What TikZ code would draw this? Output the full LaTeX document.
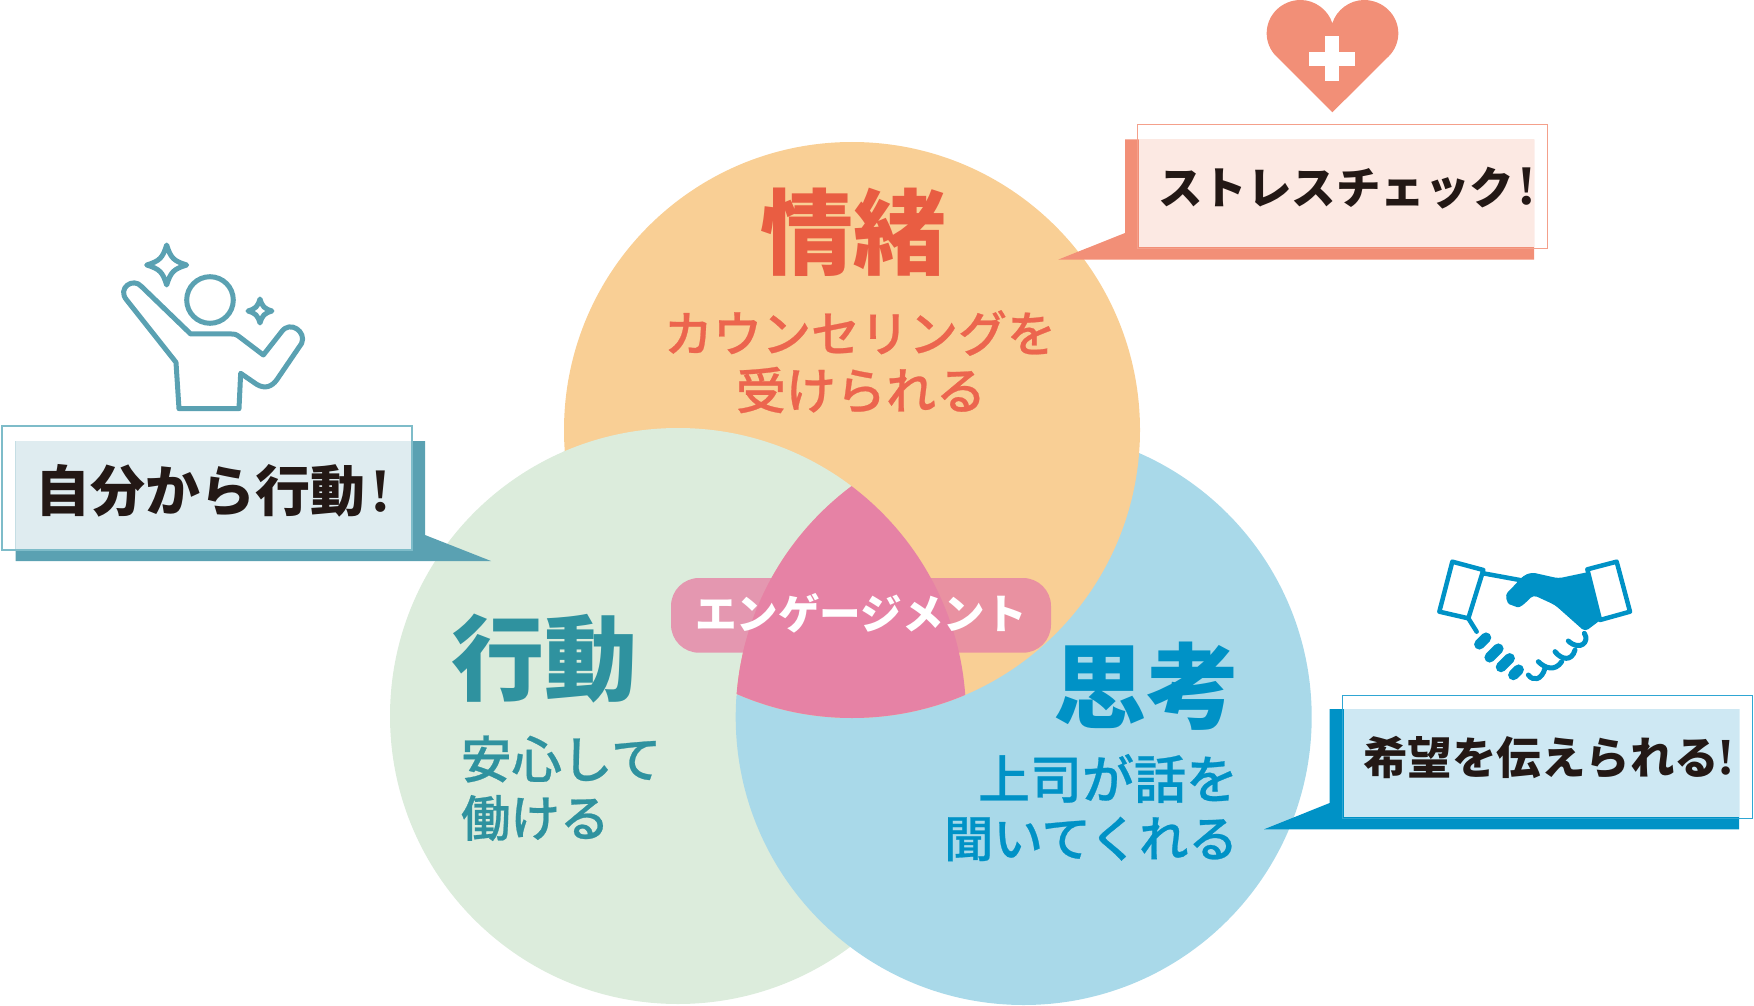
\documentclass[tikz,border=0pt]{standalone}
\usepackage{fontspec}
\setmainfont{Noto Sans CJK JP}
\newfontfamily\jpm{Noto Sans CJK JP Medium}[FakeBold=0.5]
\newfontfamily\bangfont{Liberation Serif}
\definecolor{corange}{HTML}{F9CF95}
\definecolor{cgreen}{HTML}{DCECDC}
\definecolor{cblue}{HTML}{A9D9E9}
\definecolor{cpink}{HTML}{E682A5}
\definecolor{tred}{HTML}{E95D42}
\definecolor{sred}{HTML}{EC654E}
\definecolor{tteal}{HTML}{2F929F}
\definecolor{tblue}{HTML}{0092C6}
\definecolor{ink}{HTML}{231815}
\definecolor{steal}{HTML}{5AA1B2}
\definecolor{lteal}{HTML}{DFECF0}
\definecolor{oteal}{HTML}{7EBCC9}
\definecolor{ssalmon}{HTML}{F28F77}
\definecolor{lsalmon}{HTML}{FCE9E3}
\definecolor{lblue}{HTML}{CEE8F3}
\definecolor{oblue}{HTML}{2FA6D3}
\def\CircO{(852,430) circle[radius=288pt]}
\def\CircG{(678,716) circle[radius=288pt]}
\def\CircB{(1023.7,717) circle[radius=288pt]}
\newcommand{\fs}[1]{\bfseries\fontsize{#1pt}{#1pt}\selectfont}
\newcommand{\fm}[1]{\jpm\fontsize{#1pt}{#1pt}\selectfont}
\newcommand{\bang}[2]{\hspace{#2pt}{\bangfont\bfseries\fontsize{#1pt}{#1pt}\selectfont !}}
\newcommand{\spark}[3]{(#1,#2-#3) .. controls (#1+.2*#3,#2-.35*#3) and (#1+.35*#3,#2-.2*#3) .. (#1+#3,#2)
 .. controls (#1+.35*#3,#2+.2*#3) and (#1+.2*#3,#2+.35*#3) .. (#1,#2+#3)
 .. controls (#1-.2*#3,#2+.35*#3) and (#1-.35*#3,#2+.2*#3) .. (#1-#3,#2)
 .. controls (#1-.35*#3,#2-.2*#3) and (#1-.2*#3,#2-.35*#3) .. cycle}
\tikzset{lbl/.style={inner sep=0pt,outer sep=0pt,anchor=center},
 icon/.style={line width=#1,line join=round,line cap=round}}
\begin{document}
\begin{tikzpicture}[x=1pt,y=-1pt]
\useasboundingbox (0,0) rectangle (1754,1006);
% Venn circles
\fill[cgreen] \CircG;
\fill[cblue] \CircB;
\fill[corange] \CircO;
\begin{scope}[even odd rule]
\clip (0,0) rectangle (1754,1006) \CircB;
\clip (852,430) circle[radius=290pt];
\fill[cgreen] \CircG;
\end{scope}
% pill
\fill[cpink,opacity=.8,rounded corners=28pt] (671,578) rectangle (1051,652.7);
% centre
\begin{scope}\clip \CircO; \clip \CircG; \fill[cpink] \CircB; \end{scope}
\node[lbl,text=white] (eng) at (861,613) {\fs{41.6}エンゲージメント};
% headings
\node[lbl,text=tred] (h1) at (853.5,232.5) {\fs{93}情緒};
\node[lbl,text=sred] (s1a) at (860,333) {\fm{49}カウンセリングを};
\node[lbl,text=sred] (s1b) at (861,390) {\fm{50}受けられる};
\node[lbl,text=tteal] (h2) at (544,659) {\fs{93}行動};
\node[lbl,text=tteal,anchor=west] (s2a) at (461,759) {\fm{50.5}安心して};
\node[lbl,text=tteal,anchor=west] (s2b) at (461,818) {\fm{49.5}働ける};
\node[lbl,text=tblue] (h3) at (1146.5,686) {\fs{93}思考};
\node[lbl,text=tblue,anchor=east] (s3a) at (1238,778.5) {\fm{52}上司が話を};
\node[lbl,text=tblue,anchor=east] (s3b) at (1238,839) {\fm{49.5}聞いてくれる};
% left callout
\fill[steal] (15.7,441) -- (425,441) -- (425,535) -- (491,561) -- (15.7,561) -- cycle;
\fill[lteal] (15.7,441) rectangle (411,549);
\draw[oteal,line width=1.5pt] (2,426) rectangle (412,550);
\node[lbl,text=ink,anchor=west] (c1) at (35,491) {\fs{55}自分から行動\bang{62}{5.5}};
% top callout
\fill[ssalmon] (1125,139.3) -- (1534,139.3) -- (1534,259.7) -- (1058,259.7) -- (1125,233) -- cycle;
\fill[lsalmon] (1139,139.3) rectangle (1534,247);
\draw[ssalmon!85!white,line width=1.5pt] (1137.3,124.3) rectangle (1547.7,248.3);
\node[lbl,text=ink,anchor=west] (c2) at (1158,188) {\fs{44.5}ストレスチェック\bang{56}{3}};
% right callout
\fill[tblue] (1329.7,709) -- (1739,709) -- (1739,829.3) -- (1264,829.3) -- (1329.7,803) -- cycle;
\fill[lblue] (1344,709) rectangle (1739,817);
\draw[oblue,line width=1.5pt] (1342.7,695.7) rectangle (1752.7,818.3);
\node[lbl,text=ink,anchor=west] (c3) at (1363,757.5) {\fs{44.5}希望を伝えられる\bang{52}{-2}};
% person icon
\begin{scope}[shift={(0,200)},x=.33333pt,y=-.33333pt]
\draw[steal,icon=5pt] (537,626) -- (717,626) -- (722,520) -- (770,553)
  .. controls (795,568) and (815,560) .. (830,540) -- (905,430)
  .. controls (920,395) and (870,360) .. (845,395) -- (790,465) -- (715,408)
  .. controls (708,403) and (705,402) .. (695,402) -- (572,402) -- (425,260)
  .. controls (400,230) and (350,265) .. (380,300) -- (528,487) -- cycle;
\draw[steal,line width=5pt] (630,300) circle[radius=23.3pt];
\draw[steal,icon=5pt] \spark{500}{195}{60};
\draw[steal,icon=5pt] \spark{780}{333}{36};
\end{scope}
% heart icon
\begin{scope}[shift={(1040,0)},x=.33333pt,y=-.33333pt]
\fill[ssalmon] (877,337) -- (708,168) .. controls (690,150) and (680,125) .. (680,100)
  .. controls (680,45) and (725,0) .. (782,0) .. controls (825,0) and (865,30) .. (877,70)
  .. controls (889,30) and (929,0) .. (972,0) .. controls (1029,0) and (1075,45) .. (1075,100)
  .. controls (1075,125) and (1065,150) .. (1047,168) -- cycle;
\fill[white] (808,157) rectangle (944,197);
\fill[white] (856,108) rectangle (897,244);
\end{scope}
% handshake icon
\begin{scope}[shift={(1250,540)},x=.33333pt,y=-.33333pt]
\draw[tblue,icon=4.5pt] (607,65) -- (700,90) -- (655,235) -- (568,215) -- cycle;
\draw[tblue,icon=4.5pt] (700,100) -- (820,122);
\draw[tblue,icon=4.5pt] (655,235) -- (680,275);
\fill[tblue,rounded corners=4pt] (845,97) -- (925,115) -- (1020,95) -- (1058,235) -- (1005,275) -- (915,195) -- (850,165)
  .. controls (825,190) and (810,205) .. (790,197) .. controls (770,190) and (765,165) .. (780,150) -- (820,107) -- cycle;
\fill[white,draw=tblue,line width=4.5pt,line join=round] (1100,65) -- (1012,88) -- (1050,240) -- (1140,215) -- cycle;
\draw[tblue,line width=10.5pt,line cap=round] (688,313) -- (708,293);
\draw[tblue,line width=10.5pt,line cap=round] (719,352) -- (745,326);
\draw[tblue,line width=10.5pt,line cap=round] (753,381) -- (779,355);
\draw[tblue,line width=10.5pt,line cap=round] (790,405) -- (806,389);
\draw[tblue,icon=5pt] (1003,280) .. controls (1020,305) and (990,335) .. (955,303);
\draw[tblue,icon=5pt] (975,330) .. controls (965,365) and (935,360) .. (915,335);
\draw[tblue,icon=5pt] (935,365) .. controls (915,395) and (885,385) .. (865,365);
\draw[tblue,icon=5pt] (885,385) .. controls (875,420) and (850,425) .. (835,405);
\end{scope}
\end{tikzpicture}
\end{document}
